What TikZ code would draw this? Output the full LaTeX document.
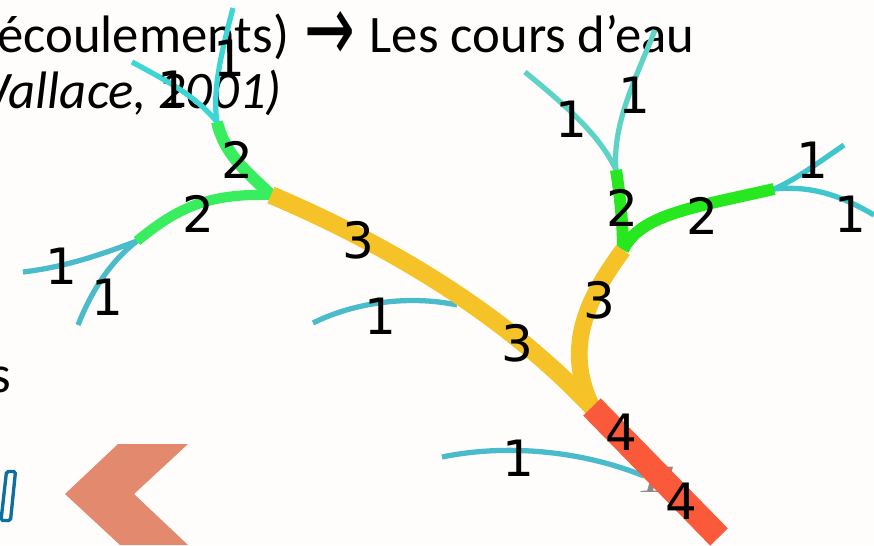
\documentclass[tikz,border=0pt]{standalone}
\usepackage{graphicx}
\usepackage{fontspec}
\setmainfont{Carlito}
\newfontfamily\numfont{DejaVu Sans}
\newfontfamily\faintfont{Liberation Serif}
\definecolor{paper}{HTML}{FFFDFC}
\definecolor{tealA}{HTML}{3DD6D6}
\definecolor{tealB}{HTML}{5DD3C5}
\definecolor{tealC}{HTML}{3FC6CC}
\definecolor{tealD}{HTML}{4ABBCB}
\definecolor{greenA}{HTML}{38EE5E}
\definecolor{greenB}{HTML}{27E81F}
\definecolor{riverY}{HTML}{F5C228}
\definecolor{riverR}{HTML}{FB5A3A}
\definecolor{chevron}{HTML}{E38A6E}
\definecolor{outline}{HTML}{0F6EA0}
\tikzset{
	lab/.style={font=\numfont\fontsize{28.5}{29}\selectfont,inner sep=0pt,text=black,xshift=.04cm},
	slide/.style={font=\fontsize{30}{31}\selectfont,inner sep=0pt,anchor=base west,text=black},
	rank1/.style={line width=3pt},
	rank2/.style={line width=6.8pt},
	rank3/.style={line width=10.2pt},
}
\begin{document}
\begin{tikzpicture}[x=.02cm,y=-.02cm]
	\fill[paper] (0,0) rectangle (874,545);
	\useasboundingbox (0,0) rectangle (874,545);
	
	\node[slide] (title) at (-3,52){écoulements)\hspace{2pt} \raisebox{-5.5pt}{\scalebox{1.15}[1.8]{\numfont →}}\hspace{1.5pt} Les cours d’eau};
	\node[slide,font=\fontsize{30}{31}\selectfont\itshape] (cite) at (-36.5,108){Wallace, 2001)};
	\node[slide] (rest) at (-10,392){s};
	
	\fill[chevron] (65,494) -- (118,444) -- (188,444) -- (134,494) -- (188,545) -- (120,545) -- cycle;
	\draw[outline,line width=1.9pt,rounded corners=1pt] (6.5,471.5) -- (15.5,471.5) -- (10.5,520.5) -- (1,520.5) -- cycle;
	
	\coordinate (tl) at (217,122);
	\coordinate (ml) at (271,195);
	\coordinate (ll) at (137,241);
	\coordinate (tr) at (616,170);
	\coordinate (mr) at (623,250);
	\coordinate (rr) at (774,189);
	\coordinate (conf) at (592,407);
	\coordinate (out) at (719,537);
	
	\node[anchor=base west,inner sep=0pt,text=gray!90,font=\faintfont\fontsize{22}{22}\selectfont\itshape] (faint) at (635,492){\scalebox{1.6}[1]{T}};
	
	\draw[tealA,rank1] (132,62) .. controls (165,80) and (195,95) .. (tl);
	\draw[tealA,rank1] (233,8) .. controls (222,50) and (212,90) .. (tl);
	\draw[tealB,rank1] (525,72) .. controls (565,105) and (600,135) .. (tr);
	\draw[tealB,rank1] (655,30) .. controls (635,80) and (612,125) .. (tr);
	\draw[tealC,rank1] (rr) .. controls (795,180) and (815,165) .. (844,145);
	\draw[tealC,rank1] (rr) .. controls (815,185) and (845,198) .. (874,215);
	\draw[tealD,rank1] (ll) .. controls (100,255) and (65,267) .. (23,272);
	\draw[tealD,rank1] (ll) .. controls (110,262) and (92,290) .. (78,325);
	\draw[tealD,rank1] (313,323) .. controls (355,302) and (410,295) .. (457,305);
	\draw[tealD,rank1] (442,457) .. controls (510,443) and (585,452) .. (644,476);
	
	\draw[greenA,rank2] (tl) .. controls (225,155) and (245,170) .. (ml);
	\draw[greenA,line width=5.8pt] (ml) .. controls (205,193) and (175,210) .. (ll);
	\draw[greenB,rank2] (tr) .. controls (620,195) and (623,225) .. (mr);
	\draw[greenB,rank2] (mr) .. controls (640,215) and (690,208) .. (rr);
	
	\draw[riverY,line width=9.5pt] (mr) .. controls (590,295) and (562,345) .. (conf);
	\draw[riverY,rank3] (ml) .. controls (400,250) and (510,320) .. (conf);
	\draw[riverR,line width=14pt] (conf) -- (out);
	
	\node[lab] (a) at (227,58){1};
	\node[lab] (b) at (171,89){1};
	\node[lab] (c) at (235,160){2};
	\node[lab] (d) at (196,214){2};
	\node[lab] (e) at (356,240){3};
	\node[lab] (f) at (59,266){1};
	\node[lab] (g) at (105,297){1};
	\node[lab] (h) at (378,316){1};
	\node[lab] (i) at (515,343){3};
	\node[lab] (j) at (597,300){3};
	\node[lab] (k) at (619,432){4};
	\node[lab] (l) at (679,501){4};
	\node[lab] (m) at (516,458){1};
	\node[lab] (n) at (569,119){1};
	\node[lab] (o) at (632,95){1};
	\node[lab] (p) at (620,208){2};
	\node[lab] (q) at (700,216){2};
	\node[lab] (r) at (810,160){1};
	\node[lab] (s) at (848,214){1};
\end{tikzpicture}
\end{document}
